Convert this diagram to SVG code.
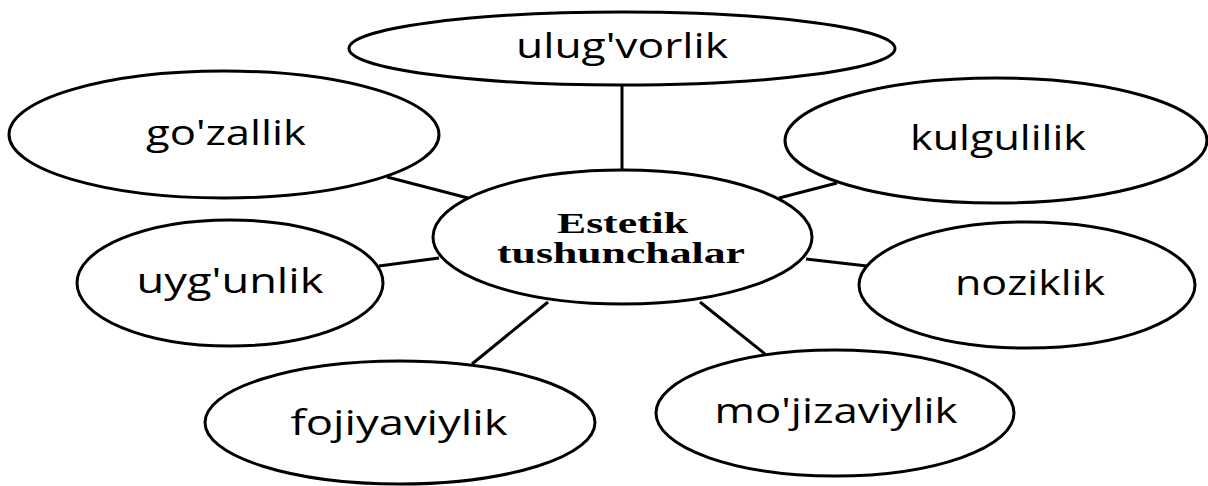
<svg xmlns="http://www.w3.org/2000/svg" width="1208" height="486" viewBox="0 0 1208 486">
<style>
.bg{fill:#fff}
.n ellipse{fill:#fff;stroke:#000;stroke-width:3}
.c line{stroke:#000;stroke-width:3}
.t{font-family:"Open Sans","Noto Sans",sans-serif;font-size:34px;fill:#000;text-anchor:middle}
.b{font-family:"Liberation Serif","Times New Roman",serif;font-weight:bold;font-size:30px;fill:#000;text-anchor:middle}
</style>
<rect class="bg" x="0" y="0" width="1208" height="486"/>
<g id="connectors" class="c">
<line x1="622" y1="85" x2="622" y2="171"/>
<line x1="387" y1="177" x2="468" y2="198"/>
<line x1="779" y1="198" x2="837" y2="183"/>
<line x1="379" y1="266" x2="439" y2="258"/>
<line x1="806" y1="259" x2="867" y2="266"/>
<line x1="472" y1="364" x2="548" y2="302"/>
<line x1="700" y1="302" x2="765" y2="354"/>
</g>
<g id="center" class="n">
<ellipse cx="622.5" cy="237" rx="189.5" ry="67"/>
<text class="b" x="622.5" y="233" textLength="131" lengthAdjust="spacingAndGlyphs">Estetik</text>
<text class="b" x="621" y="263" textLength="248" lengthAdjust="spacingAndGlyphs">tushunchalar</text>
</g>
<g id="ulugvorlik" class="n">
<ellipse cx="622" cy="48.5" rx="273" ry="36.5"/>
<text class="t" x="622" y="58" textLength="212" lengthAdjust="spacingAndGlyphs">ulug'vorlik</text>
</g>
<g id="gozallik" class="n">
<ellipse cx="224" cy="134.5" rx="215" ry="63.5"/>
<text class="t" x="226" y="145" textLength="160" lengthAdjust="spacingAndGlyphs">go'zallik</text>
</g>
<g id="kulgulilik" class="n">
<ellipse cx="996" cy="140.5" rx="211" ry="62.5"/>
<text class="t" x="998" y="150" textLength="176" lengthAdjust="spacingAndGlyphs">kulgulilik</text>
</g>
<g id="uygunlik" class="n">
<ellipse cx="230" cy="283" rx="153" ry="63"/>
<text class="t" x="230" y="293" textLength="187" lengthAdjust="spacingAndGlyphs">uyg'unlik</text>
</g>
<g id="noziklik" class="n">
<ellipse cx="1027" cy="285" rx="168" ry="63"/>
<text class="t" x="1030" y="295" textLength="150" lengthAdjust="spacingAndGlyphs">noziklik</text>
</g>
<g id="fojiyaviylik" class="n">
<ellipse cx="400" cy="422.5" rx="195" ry="61.5"/>
<text class="t" x="399" y="435" textLength="217" lengthAdjust="spacingAndGlyphs">fojiyaviylik</text>
</g>
<g id="mojizaviylik" class="n">
<ellipse cx="835" cy="413" rx="179" ry="63"/>
<text class="t" x="836" y="423" textLength="243" lengthAdjust="spacingAndGlyphs">mo'jizaviylik</text>
</g>
</svg>
